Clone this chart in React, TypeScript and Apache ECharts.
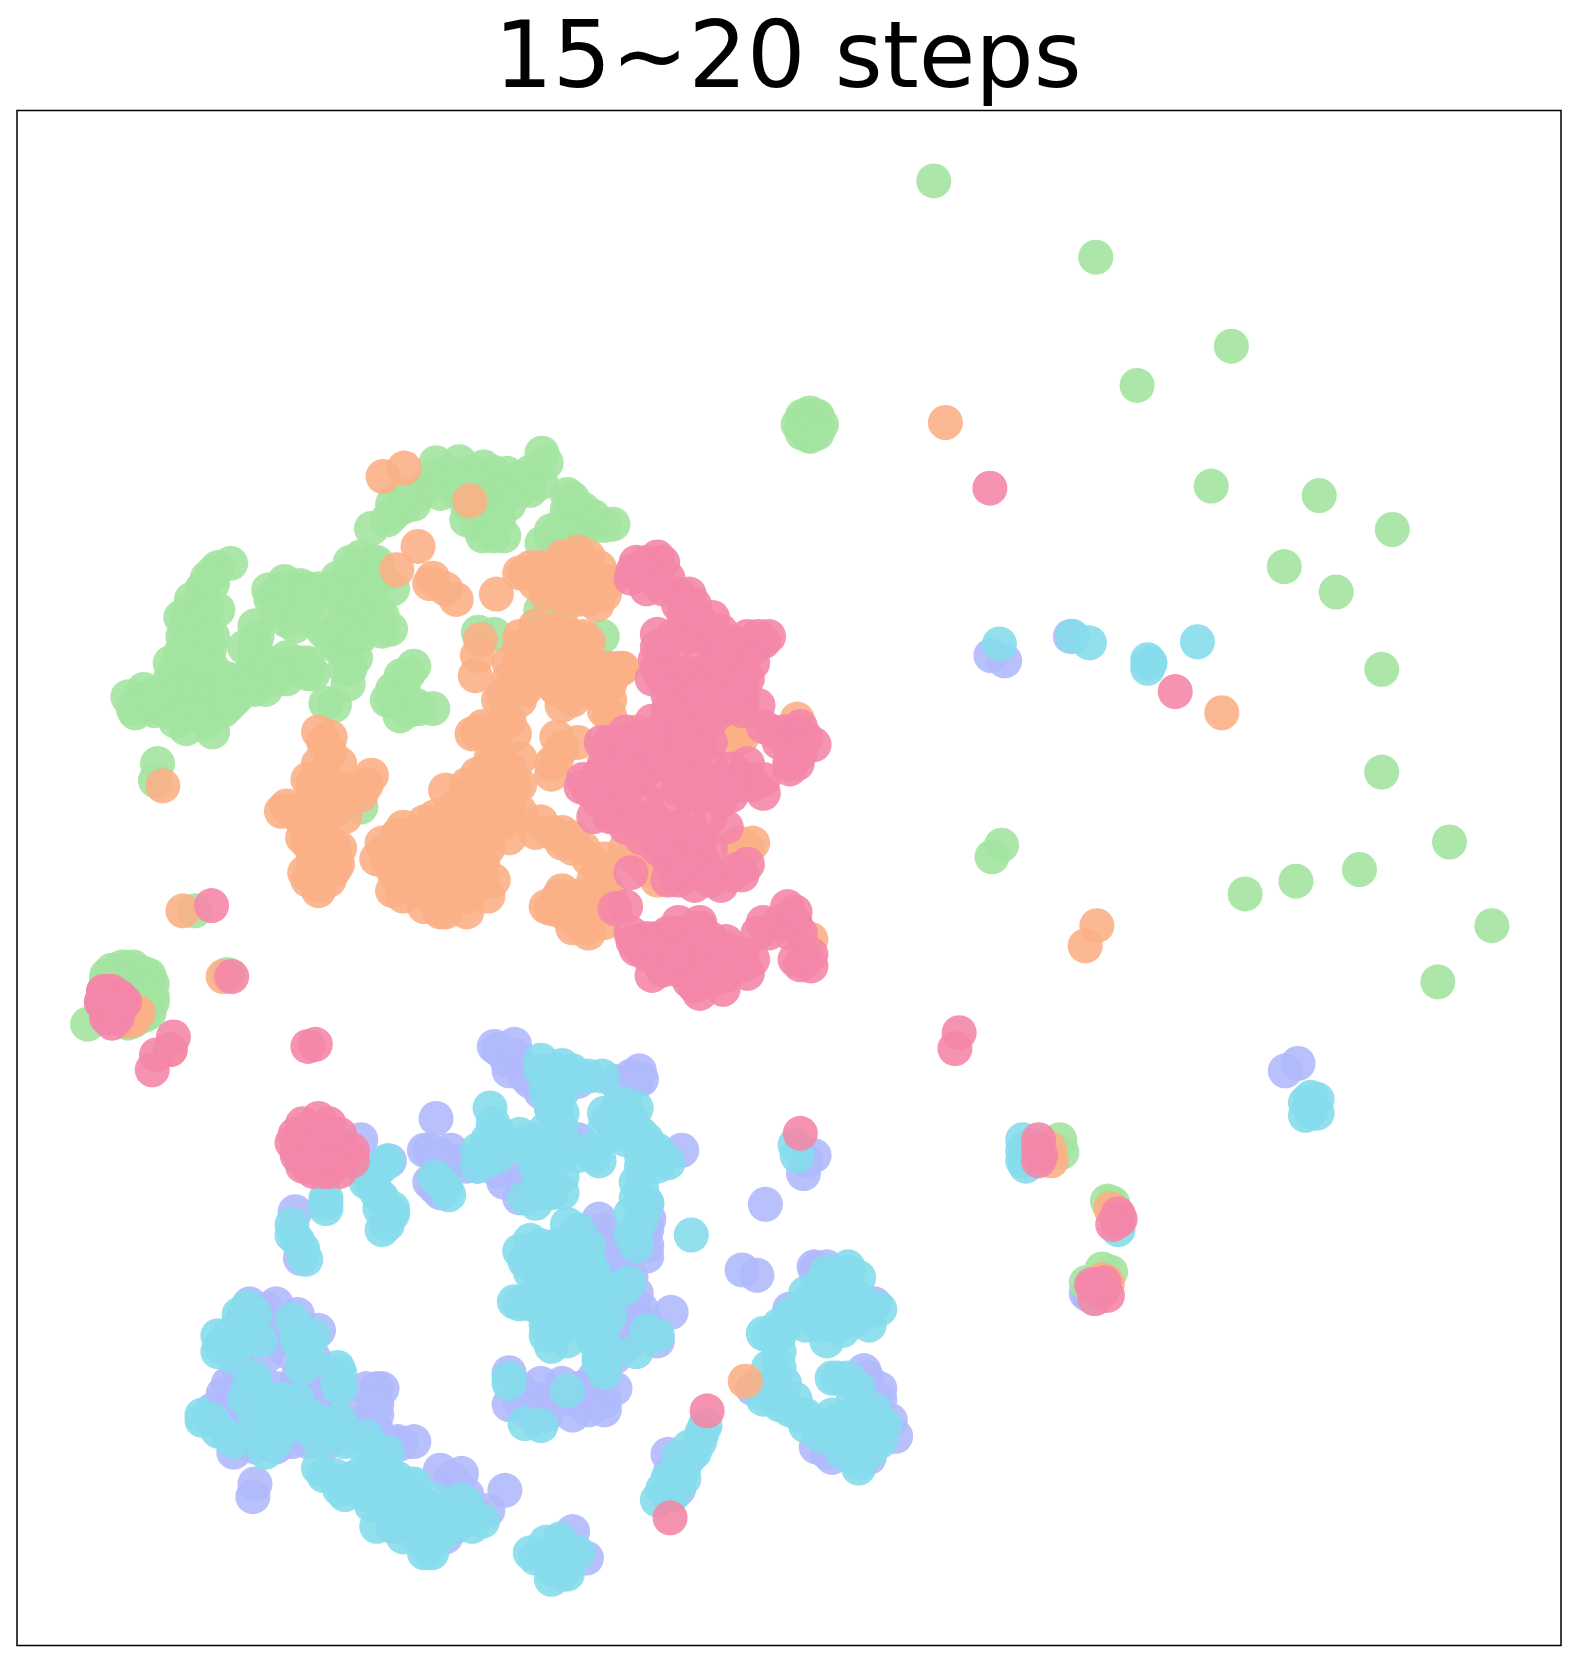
import React, { useEffect, useRef } from "react";
import * as echarts from "echarts";

const title = "15~20 steps";

const lavender = [[466,987],[478,1000],[490,1005],[500,1020],[603,1010],[605,1018],[545,1020],[411,1055],[340,1075],[367,1095],[405,1085],[425,1085],[410,1120],[465,1095],[470,1105],[490,1130],[545,1075],[643,1085],[523,1050],[500,1100],[520,1120],[610,1135],[610,1160],[610,1185],[568,1160],[575,1185],[590,1200],[600,1220],[633,1238],[620,1265],[600,1240],[590,1260],[570,1322],[555,1330],[525,1320],[480,1295],[490,1320],[510,1305],[560,1300],[278,1143],[283,1187],[722,1136],[700,1198],[714,1203],[758,1107],[768,1090],[760,1095],[768,1195],[1213,1010],[1225,1003],[935,618],[948,623],[1010,600],[1085,625],[230,1240],[250,1235],[270,1250],[300,1255],[295,1280],[215,1305],[215,1330],[280,1300],[260,1310],[250,1330],[220,1370],[240,1365],[290,1360],[355,1310],[355,1335],[378,1362],[300,1360],[330,1350],[240,1400],[238,1412],[415,1387],[430,1400],[476,1406],[460,1425],[440,1430],[420,1450],[370,1440],[345,1400],[553,1470],[540,1445],[815,1293],[830,1320],[845,1355],[780,1370],[630,1372],[632,1390],[640,1405],[770,1197],[825,1230],[745,1235],[710,1310],[1028,1222],
[470,990],[485,995],[480,1010],[495,1015],[510,1030],[520,1045],[595,1015],[580,1020],[600,1020],[400,1085],[415,1090],[430,1095],[440,1100],[405,1115],[415,1125],[450,1100],[475,1115],[495,1115],[505,1120],[510,1100],[530,1075],[530,1090],[535,1075],[612,1150],[610,1175],[565,1150],[575,1170],[585,1190],[595,1205],[590,1220],[595,1230],[580,1235],[605,1235],[610,1250],[590,1270],[580,1280],[560,1320],[545,1310],[530,1305],[515,1320],[500,1320],[490,1310],[540,1320],[550,1310],[565,1315],[225,1250],[240,1245],[255,1250],[265,1260],[280,1265],[270,1275],[260,1265],[250,1280],[225,1290],[215,1320],[225,1320],[240,1320],[225,1340],[240,1340],[270,1320],[280,1320],[290,1310],[300,1300],[310,1320],[300,1335],[330,1330],[345,1340],[355,1350],[365,1365],[350,1360],[230,1360],[275,1360],[260,1365],[425,1395],[440,1410],[450,1430],[430,1440],[635,1385],[1025,1220],[770,1200],[780,1195],[822,1235],[818,1300],[830,1310],[840,1340],[770,1365],[785,1375],[820,1375],
[485,985],[235,1230],[260,1230],[280,1240],[210,1315],[200,1330],[215,1350],[240,1355],[310,1360],[375,1360],[360,1310],[345,1310],[355,1325],[390,1360],[435,1390],[480,1325],[495,1330],[515,1335],[540,1335],[570,1330],[580,1310]];

const cyan = [[943,607],[1028,606],[1012,600],[1130,605],[1083,630],[1085,625],[1232,1052],[1243,1037],[1237,1048],[652,1165],[750,1080],[752,1090],[965,1075],[965,1095],[972,1090],[1055,1160],[1033,1225],[510,1000],[530,1005],[520,1015],[555,1015],[568,1015],[525,1040],[525,1055],[462,1045],[450,1085],[470,1070],[500,1075],[460,1095],[515,1090],[510,1110],[505,1135],[530,1110],[565,1095],[555,1085],[590,1045],[575,1055],[580,1070],[610,1080],[605,1100],[600,1130],[605,1150],[600,1175],[630,1097],[605,1070],[415,1115],[423,1127],[365,1095],[355,1105],[345,1115],[358,1140],[370,1145],[360,1160],[307,1130],[307,1140],[275,1155],[280,1170],[288,1188],[490,1180],[510,1175],[545,1160],[540,1185],[510,1200],[525,1195],[485,1228],[490,1230],[520,1215],[515,1250],[540,1240],[560,1230],[570,1250],[550,1210],[593,1210],[520,1270],[565,1280],[570,1295],[620,1260],[600,1275],[535,1312],[480,1300],[480,1305],[495,1343],[510,1345],[565,1265],[233,1233],[207,1270],[225,1265],[235,1255],[280,1252],[285,1275],[320,1295],[318,1305],[235,1305],[265,1320],[280,1335],[200,1340],[215,1355],[250,1345],[250,1370],[295,1350],[320,1340],[335,1360],[305,1392],[330,1395],[350,1385],[365,1370],[350,1420],[370,1430],[390,1440],[410,1430],[430,1425],[445,1440],[407,1465],[385,1400],[400,1420],[420,1445],[350,1400],[380,1450],[440,1430],[365,1410],[325,1410],[505,1470],[525,1458],[530,1485],[540,1465],[525,1475],[662,1352],[655,1370],[645,1385],[635,1410],[620,1415],[650,1365],[640,1400],[735,1260],[725,1260],[750,1240],[770,1230],[800,1200],[775,1210],[790,1250],[815,1240],[800,1225],[780,1265],[730,1305],[735,1290],[750,1320],[725,1318],[760,1335],[790,1300],[810,1310],[820,1340],[825,1360],[790,1340],[775,1355],[810,1380],[800,1360],[825,1345],
[510,1010],[525,1010],[535,1020],[545,1015],[530,1030],[515,1030],[520,1045],[530,1050],[515,1065],[530,1065],[490,1080],[475,1080],[460,1075],[450,1100],[455,1090],[465,1060],[505,1090],[520,1100],[510,1125],[520,1125],[495,1130],[530,1125],[525,1085],[505,1100],[545,1090],[560,1090],[570,1050],[585,1040],[595,1055],[600,1065],[610,1075],[605,1090],[600,1115],[605,1120],[595,1145],[610,1135],[600,1160],[595,1165],[590,1060],[615,1085],[620,1100],[410,1110],[420,1120],[350,1110],[360,1100],[355,1125],[360,1130],[370,1140],[365,1155],[350,1115],[307,1135],[275,1165],[285,1178],[495,1190],[510,1190],[525,1175],[540,1170],[555,1175],[530,1185],[550,1195],[510,1210],[525,1210],[500,1200],[530,1200],[545,1215],[540,1225],[560,1215],[525,1230],[500,1230],[510,1235],[530,1245],[550,1250],[565,1245],[575,1240],[515,1260],[535,1265],[525,1255],[560,1265],[575,1275],[610,1255],[565,1285],[225,1240],[215,1260],[205,1260],[230,1250],[275,1245],[280,1265],[290,1270],[295,1260],[318,1290],[250,1320],[255,1335],[240,1335],[270,1340],[285,1345],[300,1340],[265,1350],[245,1355],[260,1360],[205,1350],[190,1340],[310,1345],[280,1320],[315,1392],[340,1390],[355,1370],[360,1385],[345,1405],[360,1400],[375,1400],[370,1415],[385,1415],[395,1430],[380,1430],[360,1420],[345,1410],[335,1405],[405,1445],[415,1440],[420,1425],[435,1415],[440,1420],[395,1450],[405,1455],[375,1395],[385,1425],[410,1415],[515,1468],[530,1465],[535,1475],[520,1480],[528,1452],[660,1360],[640,1390],[650,1375],[630,1410],[625,1405],[645,1395],[740,1250],[760,1235],[765,1225],[785,1205],[795,1210],[790,1225],[780,1230],[810,1225],[805,1245],[785,1235],[770,1245],[795,1255],[775,1250],[820,1235],[760,1250],[735,1275],[725,1310],[740,1305],[745,1330],[755,1335],[735,1325],[785,1300],[800,1300],[805,1320],[810,1330],[800,1340],[785,1350],[810,1350],[810,1365],[795,1370],[825,1330],[770,1345],
[540,1010],[490,1070],[470,1090],[600,1045],[570,1065],[590,1075],[620,1085],[500,1170],[535,1155],[560,1200],[575,1215],[555,1190],[590,1215],[205,1275],[240,1240],[245,1265],[220,1280],[285,1290],[290,1285],[320,1310],[230,1320],[240,1300],[290,1335],[325,1360],[345,1355],[300,1360],[220,1360],[190,1335],[355,1440],[400,1465],[420,1440],[455,1435],[390,1400],[365,1385],[320,1405],[300,1385],[500,1465],[545,1465],[515,1455],[535,1485],[520,1490],[665,1345],[630,1395],[640,1375],[735,1250],[720,1258],[745,1240],[815,1230],[830,1235],[820,1250],[800,1195],[810,1205],[780,1200],[760,1220],[725,1290],[720,1320],[820,1370],[835,1345],[830,1360],[785,1335],[780,1345],[760,1345],[810,1385],[965,1085],[975,1080],[968,1100],[1232,1040],[1243,1050],[1237,1035],[1083,622]];

const green = [[881,170],[1034,242],[1162,326],[1073,363],[1143,458],[1245,467],[1314,499],[1212,534],[1261,558],[1304,631],[1304,728],[1368,794],[1283,820],[1223,831],[1175,843],[1408,873],[1357,926],[945,797],[936,808],[760,392],[768,392],[756,402],[772,402],[764,410],[765,398],[760,405],[770,397],[411,436],[433,435],[456,440],[478,446],[497,452],[511,427],[515,436],[510,455],[535,466],[540,487],[557,491],[578,494],[562,495],[530,507],[511,512],[490,462],[470,462],[445,470],[440,490],[460,497],[475,505],[450,495],[400,460],[385,470],[370,485],[350,498],[425,455],[390,475],[410,450],[465,455],[217,531],[205,535],[195,545],[190,560],[175,578],[195,575],[205,575],[172,600],[197,612],[185,590],[242,600],[240,608],[253,556],[268,548],[283,552],[265,570],[278,590],[290,570],[318,545],[340,525],[350,530],[320,560],[345,560],[370,555],[355,575],[368,593],[345,590],[310,600],[318,610],[335,620],[328,645],[307,663],[390,628],[378,637],[370,660],[377,675],[408,668],[392,665],[275,625],[290,635],[255,625],[240,625],[230,640],[250,650],[220,660],[200,690],[175,687],[198,650],[180,640],[165,630],[190,625],[160,660],[145,670],[127,672],[120,657],[135,650],[150,655],[175,660],[200,670],[148,720],[146,736],[340,761],[451,596],[466,598],[518,575],[568,600],[510,575],[530,570],[183,859],[214,919],[82,966],[1000,1075],[1002,1087],[1045,1133],[1050,1135],[1048,1200],[1040,1197],[1025,1210],
[753,400],[775,400],[764,389],[764,411],[757,392],[771,392],[757,408],[771,408],[97,935],[100,920],[120,914],[140,920],[143,940],[140,955],[125,963],[110,955],[120,935],[130,945],[420,445],[445,445],[465,445],[490,450],[500,445],[395,465],[380,478],[365,490],[430,462],[450,460],[480,462],[500,462],[455,480],[470,480],[445,480],[455,505],[480,475],[550,495],[570,495],[535,480],[520,507],[530,495],[415,465],[200,540],[190,555],[180,565],[185,575],[170,582],[180,600],[195,600],[175,590],[200,550],[240,615],[240,590],[260,560],[270,560],[275,575],[265,555],[280,565],[275,555],[255,565],[260,575],[290,555],[300,555],[310,565],[330,545],[335,535],[325,550],[345,545],[360,545],[335,565],[350,585],[340,575],[325,575],[360,580],[330,585],[330,560],[305,595],[315,605],[325,615],[330,630],[325,630],[315,665],[380,650],[385,635],[370,650],[385,670],[395,668],[365,660],[165,640],[175,630],[190,640],[200,630],[180,650],[190,660],[170,650],[155,670],[140,660],[130,660],[125,668],[170,675],[185,675],[195,680],[160,640],[150,665],[165,680],[210,670],[225,655],[235,635],[245,640],[265,630],[280,630],[260,640],[240,650],[255,635],[285,625],[295,635],[270,620],[205,650],[215,665],[215,640],
[100,935],[105,915],[115,912],[125,912],[135,918],[143,928],[143,945],[135,958],[120,965],[105,950],[115,925],[130,930],[120,950],[100,925],[140,935],[130,955],[110,940],[160,625],[170,615],[155,650],[195,620],[175,610],[145,655],[200,600],[240,640],[250,625],[270,640],[290,625],[380,465],[370,475],[440,460],[440,475],[470,490],[465,505],[430,450],[560,487],[545,500],[520,500],[550,480],[540,470],[350,545],[355,530],[330,530],[310,555],[270,585],[285,580],[290,560],[230,610],[320,590],[340,600],[360,595]];

const orange = [[361,449],[381,441],[443,472],[394,515],[374,537],[408,545],[420,555],[430,565],[405,550],[468,560],[495,540],[520,540],[545,530],[560,545],[565,560],[540,550],[515,560],[563,570],[530,560],[575,548],[453,603],[450,618],[448,637],[490,610],[510,600],[530,605],[550,600],[525,620],[500,630],[488,645],[510,640],[540,640],[560,640],[587,630],[575,660],[570,670],[475,655],[540,660],[555,650],[445,692],[462,690],[475,678],[485,692],[463,715],[530,705],[520,730],[525,715],[311,695],[300,720],[295,740],[310,740],[350,731],[340,750],[325,770],[265,765],[290,760],[300,780],[290,795],[318,815],[287,823],[300,835],[310,830],[480,725],[485,740],[460,745],[440,750],[425,765],[465,770],[480,790],[445,790],[420,790],[375,787],[363,802],[400,785],[370,820],[385,835],[400,830],[420,860],[440,845],[455,830],[420,815],[445,810],[400,810],[420,840],[510,775],[530,795],[550,800],[565,820],[570,835],[527,845],[520,857],[540,860],[553,875],[570,870],[545,845],[600,690],[615,700],[700,690],[752,678],[697,795],[705,800],[590,800],[610,820],[765,886],[153,741],[172,859],[210,921],[120,960],[115,950],[160,990],[1024,892],[1035,873],[892,398],[1153,672],[703,1303],[990,1083],[992,1095],[1052,1143],[1048,1140],[1045,1210],[1040,1207],
[500,535],[510,545],[525,535],[535,530],[550,535],[550,555],[535,545],[560,555],[520,555],[505,550],[530,550],[555,525],[565,535],[545,565],[555,565],[490,600],[500,605],[520,595],[540,600],[515,610],[525,630],[545,615],[535,625],[510,625],[490,625],[500,640],[480,640],[520,645],[555,625],[570,630],[575,645],[545,650],[495,650],[580,635],[565,655],[575,675],[450,690],[470,685],[480,680],[455,685],[470,710],[475,725],[490,715],[478,745],[311,710],[305,730],[290,735],[300,750],[310,755],[320,745],[330,745],[345,740],[315,765],[305,770],[275,765],[285,775],[295,765],[290,785],[315,800],[300,825],[310,820],[290,830],[450,740],[435,760],[445,770],[455,760],[470,755],[480,760],[475,775],[460,790],[450,775],[430,780],[410,790],[435,795],[385,790],[375,800],[365,810],[380,810],[390,800],[390,820],[410,825],[425,825],[435,825],[430,810],[415,800],[405,840],[425,850],[410,850],[395,840],[375,830],[440,830],[445,840],[455,815],[460,800],[465,780],[520,785],[540,800],[555,810],[560,830],[535,850],[550,850],[560,860],[530,860],[545,870],[565,850],[575,855],[540,875],[600,700],[610,705],[695,685],[690,700],[700,695],[600,795],[610,810],[600,810],[620,830],[697,800],[710,795],[120,963],[125,958],
[115,962],[125,962],[130,955],[120,955],[110,955],[510,535],[530,525],[545,520],[570,560],[490,540],[480,625],[505,590],[530,590],[555,605],[500,615],[525,650],[490,660],[550,635],[575,630],[585,630],[470,660],[530,665],[420,745],[430,760],[440,740],[450,730],[460,725],[470,730],[490,740],[475,770],[490,765],[410,770],[400,775],[380,780],[360,795],[355,810],[370,840],[380,845],[400,855],[415,860],[440,860],[460,845],[465,830],[430,775],[400,790],[415,810],[505,785],[540,790],[530,785],[300,690],[305,700],[320,720],[280,765],[270,760],[285,790],[295,810],[315,820],[320,800],[310,795],[300,840],[530,840],[515,855],[555,880],[575,845],[570,810],[525,695],[520,720],[545,700]];

const pink = [[934,460],[1109,652],[905,974],[901,989],[620,525],[597,538],[615,545],[630,545],[650,560],[645,580],[672,582],[620,598],[618,622],[635,650],[680,605],[700,610],[725,600],[712,610],[720,605],[690,640],[700,630],[660,620],[650,650],[690,665],[715,665],[630,670],[660,680],[640,700],[610,710],[600,720],[620,740],[567,700],[548,742],[555,745],[580,770],[600,770],[630,760],[640,790],[660,800],[640,825],[680,835],[655,835],[705,815],[700,825],[660,730],[690,725],[705,720],[680,755],[720,748],[740,690],[755,685],[768,702],[745,720],[750,700],[595,823],[590,855],[580,857],[597,888],[620,885],[640,880],[660,875],[685,888],[600,895],[625,915],[650,900],[660,937],[682,933],[705,918],[710,905],[715,880],[743,855],[750,870],[745,880],[765,911],[750,905],[680,910],[650,915],[199,854],[218,921],[100,940],[115,945],[100,960],[105,955],[95,945],[163,978],[160,990],[147,995],[143,1009],[290,987],[297,985],[295,1065],[280,1073],[310,1075],[325,1085],[285,1090],[300,1085],[305,1105],[295,1100],[320,1095],[755,1069],[632,1432],[667,1331],[980,1075],[980,1095],[1055,1152],[1035,1215],[1040,1218],[1033,1212],
[605,540],[625,530],[610,530],[640,560],[655,570],[660,585],[625,610],[635,600],[620,610],[650,600],[660,600],[670,605],[690,605],[705,600],[715,600],[710,625],[695,620],[680,625],[670,630],[660,635],[640,630],[630,630],[625,640],[640,645],[660,660],[645,665],[675,650],[680,670],[670,680],[700,650],[700,660],[640,680],[620,690],[630,700],[650,690],[670,700],[660,705],[640,715],[625,720],[610,725],[590,700],[580,710],[570,720],[585,730],[600,735],[640,735],[650,730],[670,720],[680,735],[665,750],[650,750],[640,745],[610,755],[590,745],[570,745],[565,755],[580,750],[615,770],[625,780],[650,775],[670,770],[690,750],[700,740],[705,735],[650,790],[625,800],[630,810],[650,815],[665,815],[660,825],[640,810],[670,825],[690,825],[695,820],[685,740],[720,685],[730,690],[735,700],[750,690],[760,695],[745,705],[755,710],[700,670],[610,885],[630,880],[650,885],[670,885],[610,900],[625,895],[640,895],[665,900],[690,905],[640,915],[660,920],[670,925],[685,920],[695,910],[660,925],[675,900],[700,900],[725,880],[735,870],[745,865],[755,880],[755,910],[97,937],[115,943],[100,958],[108,958],[103,948],[290,1075],[300,1075],[285,1080],[295,1085],[310,1085],[320,1085],[300,1095],[290,1095],[310,1095],[315,1080],[300,1070],[275,1078],[280,1085],[980,1085],[982,1090],[1055,1145],[1057,1150],[1050,1155],[1030,1212],[1045,1222],[1033,1225],[1042,1210],
[97,935],[100,950],[105,965],[110,960],[112,940],[117,945],[95,945],[105,935],[108,950],[595,545],[600,530],[610,555],[625,555],[640,570],[680,595],[620,630],[615,640],[630,655],[640,655],[650,640],[680,640],[660,650],[690,650],[705,640],[700,645],[550,735],[565,730],[575,700],[590,690],[610,695],[615,680],[600,695],[560,770],[575,770],[590,780],[605,790],[620,800],[630,830],[640,830],[655,820],[670,800],[685,780],[710,740],[720,735],[670,830],[640,780],[660,790],[745,725],[752,720],[620,905],[635,905],[650,925],[670,915],[655,930],[685,895],[700,910],[640,870],[660,870],[595,880],[605,895],[615,920],[750,860],[720,870],[760,905],[765,900],[285,1060],[300,1055],[310,1060],[320,1070],[332,1085],[332,1095],[320,1105],[310,1105],[295,1105],[290,1100],[285,1100],[280,1090],[278,1070],[290,1065],[300,1090],[310,1068]];

const groups: [string, number[][], string][] = [
  ["a", lavender, "#b0bafc"],
  ["b", cyan, "#86dbec"],
  ["c", green, "#a3e4a0"],
  ["d", orange, "#fbb086"],
  ["e", pink, "#f487a8"],
];

export default function App() {
  const ref = useRef<HTMLDivElement>(null);
  useEffect(() => {
    const chart = echarts.init(ref.current!, null, { renderer: "svg" });
    const axis = { show: false, scale: true, splitLine: { show: false } };
    chart.setOption({
      animation: false,
      title: {
        text: title,
        left: 783,
        top: 4,
        textAlign: "center",
        textStyle: { fontFamily: "DejaVu Sans", fontSize: 92, fontWeight: "normal", color: "#000" },
      },
      grid: { left: 17, top: 110.5, width: 1544, height: 1535, show: true, borderColor: "#000", borderWidth: 1.5, backgroundColor: "#fff" },
      xAxis: { ...axis, type: "value", min: 15.3, max: 1473.3 },
      yAxis: { ...axis, type: "value", min: 103.5, max: 1552.5, inverse: true },
      series: groups.map(([name, data, color]) => ({
        name,
        type: "scatter",
        data,
        symbolSize: 35,
        itemStyle: { color, opacity: 0.9 },
      })),
    });
    return () => chart.dispose();
  }, []);
  return <div ref={ref} style={{ position: "absolute", left: 0, top: 0, width: 1578, height: 1661 }} />;
}
